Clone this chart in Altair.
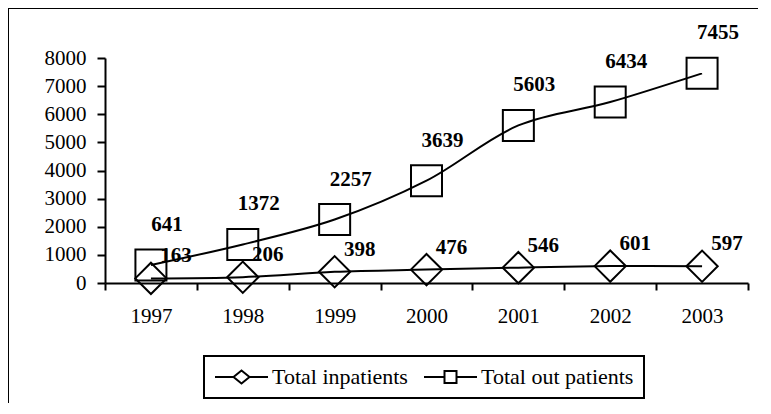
import altair as alt
import pandas as pd

years = ["1997", "1998", "1999", "2000", "2001", "2002", "2003"]
inpatients = [163, 206, 398, 476, 546, 601, 597]
outpatients = [641, 1372, 2257, 3639, 5603, 6434, 7455]
series_names = ["Total inpatients", "Total out patients"]
y_ticks = [0, 1000, 2000, 3000, 4000, 5000, 6000, 7000, 8000]

df = pd.DataFrame({
    "year": years * 2,
    "value": inpatients + outpatients,
    "series": [series_names[0]] * len(years) + [series_names[1]] * len(years),
})

FONT = "Liberation Serif"
VIEW_W, VIEW_H = 780, 430
X_RANGE = [97, 740]
Y_RANGE = [275, 50]

x_enc = alt.X(
    "year:O",
    scale=alt.Scale(type="band", range=X_RANGE, paddingInner=0, paddingOuter=0),
    axis=alt.Axis(
        title=None, labelAngle=0, tickBand="extent", offset=-(VIEW_H - Y_RANGE[0]),
        domainColor="black", domainWidth=2, tickColor="black", tickWidth=2, tickSize=7,
        labelFont=FONT, labelFontSize=21, labelColor="black", labelPadding=15, grid=False,
    ),
)
y_enc = alt.Y(
    "value:Q",
    scale=alt.Scale(domain=[0, 8000], range=Y_RANGE, nice=False),
    axis=alt.Axis(
        title=None, values=y_ticks, format="d", offset=-X_RANGE[0],
        domainColor="black", domainWidth=2, tickColor="black", tickWidth=2, tickSize=8,
        labelFont=FONT, labelFontSize=21, labelColor="black", labelPadding=11, grid=False,
    ),
)

base = alt.Chart(df)

lines = base.mark_line(color="black", strokeWidth=2, interpolate="catmull-rom").encode(
    x=x_enc, y=y_enc, detail="series:N"
)

in_pts = base.transform_filter(alt.datum.series == series_names[0]).mark_point(
    shape="diamond", size=980, color="black", strokeWidth=2, filled=False, opacity=1
).encode(x=x_enc, y=y_enc)

out_pts = base.transform_filter(alt.datum.series == series_names[1]).mark_point(
    shape="square", size=961, color="black", strokeWidth=2, filled=False, opacity=1
).encode(x=x_enc, y=y_enc)

in_lbl = base.transform_filter(alt.datum.series == series_names[0]).mark_text(
    font=FONT, fontSize=21, fontWeight="bold", color="black", dx=25, dy=-22,
    align="center", baseline="middle"
).encode(x=x_enc, y=y_enc, text=alt.Text("value:Q", format="d"))

out_lbl = base.transform_filter(alt.datum.series == series_names[1]).mark_text(
    font=FONT, fontSize=21, fontWeight="bold", color="black", dx=16, dy=-40,
    align="center", baseline="middle"
).encode(x=x_enc, y=y_enc, text=alt.Text("value:Q", format="d"))

diamond_path = "M-1,0L0.85,0M0.85,0L1.65,-0.65L2.45,0L1.65,0.65ZM2.45,0L4.3,0"
square_path = "M-1,0L1.05,0M1.05,-0.6L2.25,-0.6L2.25,0.6L1.05,0.6ZM2.25,0L4.3,0"

legend_layer = base.mark_point(opacity=0, color="black", filled=False).encode(
    x=x_enc, y=y_enc,
    shape=alt.Shape(
        "series:N",
        scale=alt.Scale(domain=series_names, range=[diamond_path, square_path]),
        legend=alt.Legend(
            title=None, orient="none", legendX=196, legendY=348, direction="horizontal",
            symbolSize=400, symbolStrokeWidth=2, symbolStrokeColor="black",
            symbolFillColor="transparent", labelOffset=36, columnPadding=12,
        ),
    ),
)

chart = alt.layer(lines, in_pts, out_pts, in_lbl, out_lbl, legend_layer).properties(
    width=VIEW_W, height=VIEW_H,
    padding={"left": 0, "top": 0, "right": -30, "bottom": -35},
    autosize="none",
    background="white",
).configure_view(
    stroke="black", strokeWidth=2
).configure_legend(
    strokeColor="black", strokeWidth=2, padding=10, cornerRadius=0,
    labelFont=FONT, labelFontSize=22, labelColor="black", labelLimit=400,
)

chart.save("out.html", embed_options={"renderer": "svg", "actions": False})
